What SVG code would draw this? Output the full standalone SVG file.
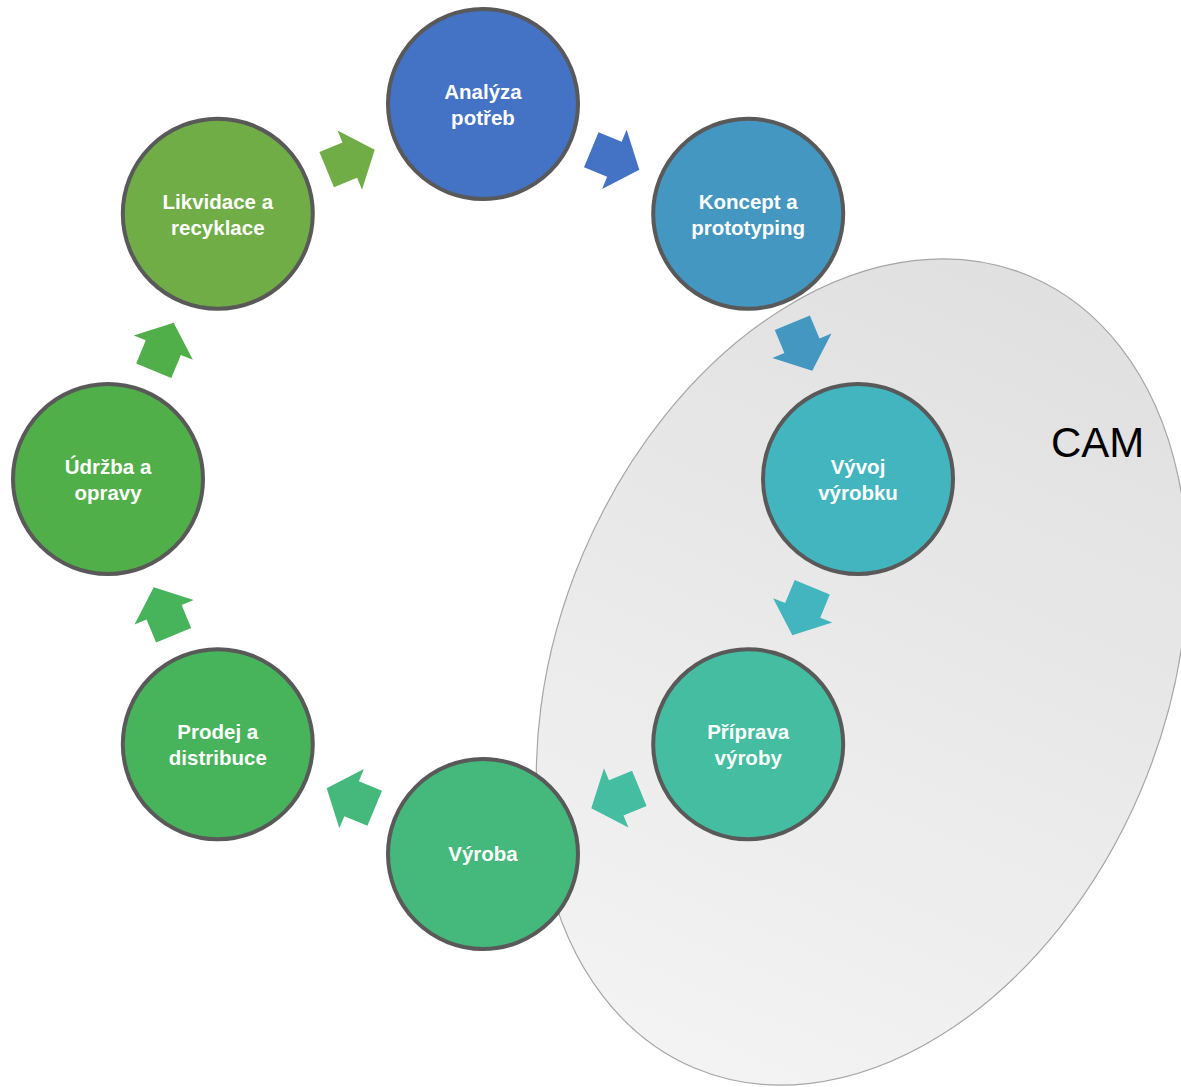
<svg xmlns="http://www.w3.org/2000/svg" width="1181" height="1087" viewBox="0 0 1181 1087">
<defs>
<linearGradient id="camGrad" x1="0" y1="0" x2="0" y2="1">
<stop offset="0" stop-color="#e0e0e0"/>
<stop offset="1" stop-color="#f3f3f3"/>
</linearGradient>
<polygon id="arr" points="-26,-19 -1,-19 -1,-32 26,0 -1,32 -1,19 -26,19"/>
</defs>
<style>
.node circle{stroke:#595959;stroke-width:4}
.lbl{font-family:"Liberation Sans","Open Sans",Arial,sans-serif;font-weight:bold;font-size:20.5px;fill:#ffffff;text-anchor:middle}
.cam{font-family:"Liberation Sans",Arial,sans-serif;font-size:42px;fill:#000000}
</style>
<rect width="1181" height="1087" fill="#ffffff"/>
<g id="cam-region">
<ellipse cx="0" cy="0" rx="303" ry="430" transform="translate(862,672) rotate(23)" fill="url(#camGrad)" stroke="#a6a6a6" stroke-width="1.2"/>
<text class="cam" x="1051" y="457">CAM</text>
</g>
<g id="connectors">
<use href="#arr" fill="#4472C4" transform="translate(615.3,159.7) rotate(22.5)"/>
<use href="#arr" fill="#4397C1" transform="translate(802.3,346.7) rotate(67.5)"/>
<use href="#arr" fill="#43B5BE" transform="translate(802.3,611.3) rotate(112.5)"/>
<use href="#arr" fill="#44BDA0" transform="translate(615.3,798.3) rotate(157.5)"/>
<use href="#arr" fill="#45B87C" transform="translate(350.7,798.3) rotate(202.5)"/>
<use href="#arr" fill="#47B35A" transform="translate(163.7,611.3) rotate(247.5)"/>
<use href="#arr" fill="#50AF48" transform="translate(163.7,346.7) rotate(292.5)"/>
<use href="#arr" fill="#70AD47" transform="translate(350.7,159.7) rotate(337.5)"/>
</g>
<g id="n-analyza" class="node">
<circle cx="483" cy="104" r="95" fill="#4472C4"/>
<text class="lbl" x="483" y="99">Analýza</text>
<text class="lbl" x="483" y="125">potřeb</text>
</g>
<g id="n-koncept" class="node">
<circle cx="748.2" cy="213.8" r="95" fill="#4397C1"/>
<text class="lbl" x="748.2" y="208.8">Koncept a</text>
<text class="lbl" x="748.2" y="234.8">prototyping</text>
</g>
<g id="n-vyvoj" class="node">
<circle cx="858" cy="479" r="95" fill="#43B5BE"/>
<text class="lbl" x="858" y="474">Vývoj</text>
<text class="lbl" x="858" y="500">výrobku</text>
</g>
<g id="n-priprava" class="node">
<circle cx="748.2" cy="744.2" r="95" fill="#44BDA0"/>
<text class="lbl" x="748.2" y="739.2">Příprava</text>
<text class="lbl" x="748.2" y="765.2">výroby</text>
</g>
<g id="n-vyroba" class="node">
<circle cx="483" cy="854" r="95" fill="#45B87C"/>
<text class="lbl" x="483" y="861">Výroba</text>
</g>
<g id="n-prodej" class="node">
<circle cx="217.8" cy="744.2" r="95" fill="#47B35A"/>
<text class="lbl" x="217.8" y="739.2">Prodej a</text>
<text class="lbl" x="217.8" y="765.2">distribuce</text>
</g>
<g id="n-udrzba" class="node">
<circle cx="108" cy="479" r="95" fill="#50AF48"/>
<text class="lbl" x="108" y="474">Údržba a</text>
<text class="lbl" x="108" y="500">opravy</text>
</g>
<g id="n-likvidace" class="node">
<circle cx="217.8" cy="213.8" r="95" fill="#70AD47"/>
<text class="lbl" x="217.8" y="208.8">Likvidace a</text>
<text class="lbl" x="217.8" y="234.8">recyklace</text>
</g>
</svg>
